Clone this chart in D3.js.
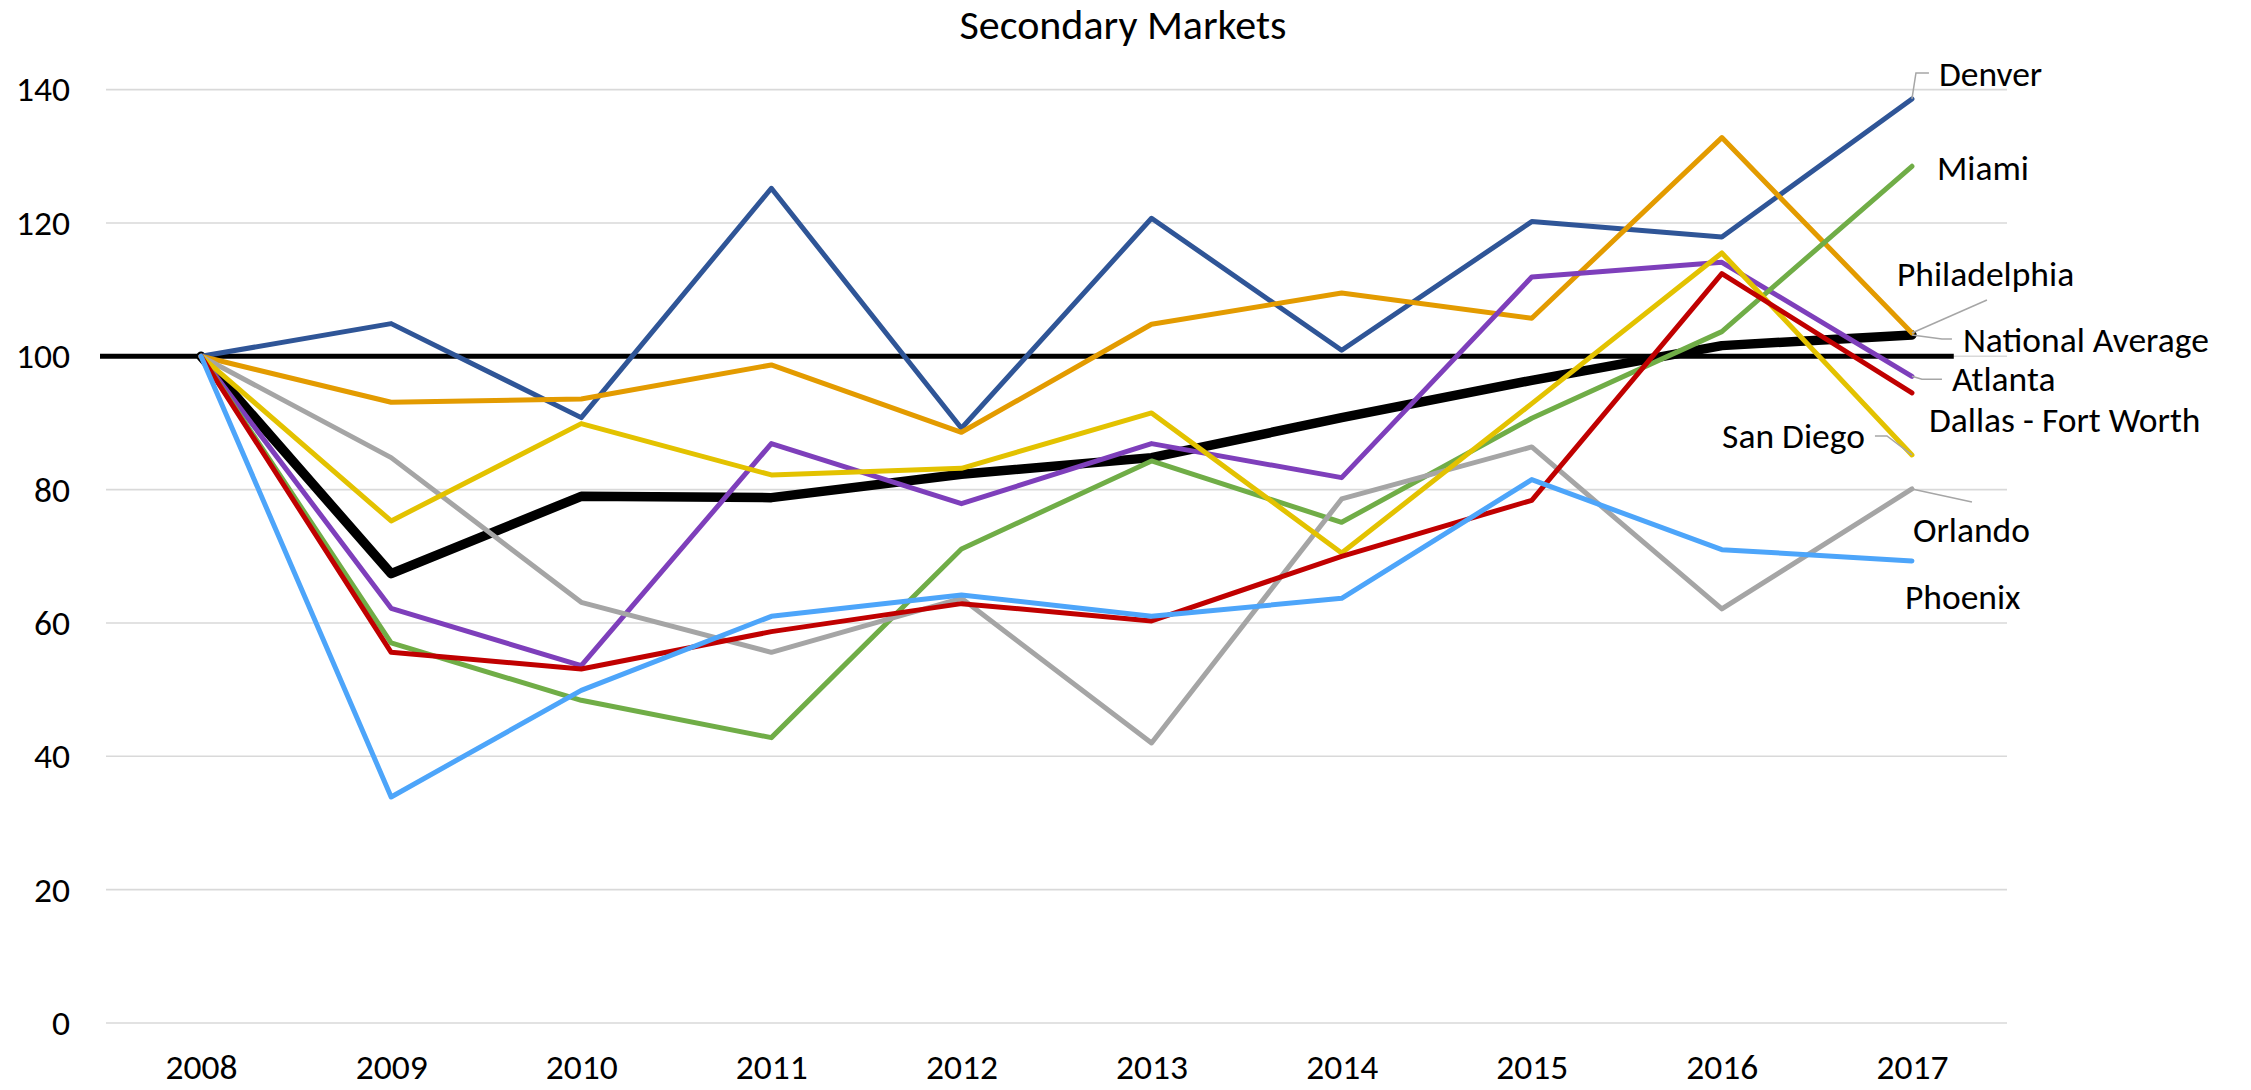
<!DOCTYPE html>
<html>
<head>
<meta charset="utf-8">
<script src="https://cdn.jsdelivr.net/npm/d3@7"></script>
<style>
  body { margin: 0; background: #fff; }
  text { font-family: Carlito, Lato, sans-serif; fill: #000; }
</style>
</head>
<body>
<div id="wrapper"></div>
<script>
// data
const years = ["2008", "2009", "2010", "2011", "2012", "2013", "2014", "2015", "2016", "2017"];
const yTicks = [0, 20, 40, 60, 80, 100, 120, 140];
const referenceValue = 100;

const denver = [100, 104.9, 90.8, 125.2, 89.2, 120.7, 100.9, 120.2, 117.9, 138.6];
const miami = [100, 57.0, 48.4, 42.8, 71.1, 84.3, 75.1, 90.7, 103.7, 128.5];
const philadelphia = [100, 93.1, 93.6, 98.7, 88.6, 104.8, 109.5, 105.7, 132.8, 103.5];
const nationalAverage = [100, 67.4, 79.0, 78.8, 82.3, 84.8, 90.8, 96.4, 101.6, 103.2];
const atlanta = [100, 62.2, 53.6, 86.9, 77.9, 86.9, 81.8, 111.9, 114.1, 97.0];
const dallas = [100, 55.6, 53.1, 58.7, 62.9, 60.3, 70.0, 78.4, 112.4, 94.5];
const sanDiego = [100, 75.3, 89.9, 82.2, 83.2, 91.5, 70.5, 92.9, 115.5, 85.2];
const orlando = [100, 84.8, 63.1, 55.6, 63.7, 42.0, 78.6, 86.4, 62.1, 80.1];
const phoenix = [100, 33.9, 49.9, 61.0, 64.2, 61.0, 63.7, 81.5, 71.0, 69.3];

const series = [
  { name: "National Average", values: nationalAverage, color: "#000000", width: 9.5 },
  { name: "Denver", values: denver, color: "#2F5597", width: 5 },
  { name: "Philadelphia", values: philadelphia, color: "#E39B00", width: 5 },
  { name: "Atlanta", values: atlanta, color: "#7E3FBB", width: 5 },
  { name: "Miami", values: miami, color: "#70AD47", width: 5 },
  { name: "Orlando", values: orlando, color: "#A5A5A5", width: 5 },
  { name: "San Diego", values: sanDiego, color: "#E3C200", width: 5 },
  { name: "Dallas - Fort Worth", values: dallas, color: "#C00000", width: 5 },
  { name: "Phoenix", values: phoenix, color: "#4DA5FA", width: 5 },
];

// label placement relative to each line's last point (dx, dy), optional leader path
const labelLayout = {
  "Denver": { dx: 27, dy: -13, leader: [[4, -26], [17, -26]] },
  "Miami": { dx: 25, dy: 14 },
  "Philadelphia": { dx: -15, dy: -47, leader: [[75, -33]] },
  "National Average": { dx: 51, dy: 17, leader: [[30, 4], [40, 4]] },
  "Atlanta": { dx: 40, dy: 15, leader: [[10, 3], [30, 3]] },
  "Dallas - Fort Worth": { dx: 17, dy: 39 },
  "San Diego": { dx: -47, dy: -7, anchor: "end", leader: [[-25, -19], [-37, -19]] },
  "Orlando": { dx: 1, dy: 53, leader: [[60, 13]] },
  "Phoenix": { dx: -7, dy: 48 },
};

const width = 2251;
const height = 1090;
const plot = { left: 106, right: 2007, top: 89.6, bottom: 1023 };
const fontSize = 35.5;

const svg = d3.select("#wrapper")
  .append("svg")
  .attr("width", width)
  .attr("height", height);

const xScale = d3.scalePoint()
  .domain(years)
  .range([plot.left, plot.right])
  .padding(0.5);

const yScale = d3.scaleLinear()
  .domain([0, 140])
  .range([plot.bottom, plot.top]);

// gridlines
svg.append("g")
  .selectAll("line")
  .data(yTicks)
  .join("line")
  .attr("x1", plot.left)
  .attr("x2", plot.right)
  .attr("y1", d => yScale(d))
  .attr("y2", d => yScale(d))
  .attr("stroke", "#D9D9D9")
  .attr("stroke-width", 1.6);

// y axis labels
const yAxis = svg.append("g")
  .attr("transform", `translate(${plot.left}, 0)`)
  .call(d3.axisLeft(yScale).tickValues(yTicks).tickSize(0).tickPadding(36));
yAxis.select(".domain").remove();
yAxis.selectAll("text")
  .attr("font-size", fontSize)
  .attr("font-family", "Carlito, Lato, sans-serif")
  .attr("fill", "#000");

// x axis labels
const xAxis = svg.append("g")
  .attr("transform", `translate(0, ${plot.bottom})`)
  .call(d3.axisBottom(xScale).tickSize(0).tickPadding(31));
xAxis.select(".domain").remove();
xAxis.selectAll("text")
  .attr("font-size", fontSize)
  .attr("font-family", "Carlito, Lato, sans-serif")
  .attr("fill", "#000");

// title
svg.append("text")
  .attr("x", 1123)
  .attr("y", 39)
  .attr("text-anchor", "middle")
  .attr("font-size", 42)
  .text("Secondary Markets");

// reference line at 100
const step = xScale.step();
svg.append("line")
  .attr("x1", plot.left - 6)
  .attr("x2", xScale(years[years.length - 1]) + step * 0.22)
  .attr("y1", yScale(referenceValue))
  .attr("y2", yScale(referenceValue))
  .attr("stroke", "#000")
  .attr("stroke-width", 5);

// lines
const lineGenerator = d3.line()
  .x((d, i) => xScale(years[i]))
  .y(d => yScale(d));

svg.append("g")
  .selectAll("path")
  .data(series)
  .join("path")
  .attr("d", d => lineGenerator(d.values))
  .attr("fill", "none")
  .attr("stroke", d => d.color)
  .attr("stroke-width", d => d.width)
  .attr("stroke-linejoin", "round")
  .attr("stroke-linecap", "round");

// end labels + leader lines
const labels = svg.append("g");
series.forEach(s => {
  const lay = labelLayout[s.name];
  const ex = xScale(years[years.length - 1]);
  const ey = yScale(s.values[s.values.length - 1]);
  if (lay.leader) {
    const pts = [[ex, ey]].concat(lay.leader.map(p => [ex + p[0], ey + p[1]]));
    labels.append("path")
      .attr("d", d3.line()(pts))
      .attr("fill", "none")
      .attr("stroke", "#A6A6A6")
      .attr("stroke-width", 1.5);
  }
  labels.append("text")
    .attr("x", ex + lay.dx)
    .attr("y", ey + lay.dy)
    .attr("text-anchor", lay.anchor || "start")
    .attr("font-size", fontSize)
    .text(s.name);
});
</script>
</body>
</html>
